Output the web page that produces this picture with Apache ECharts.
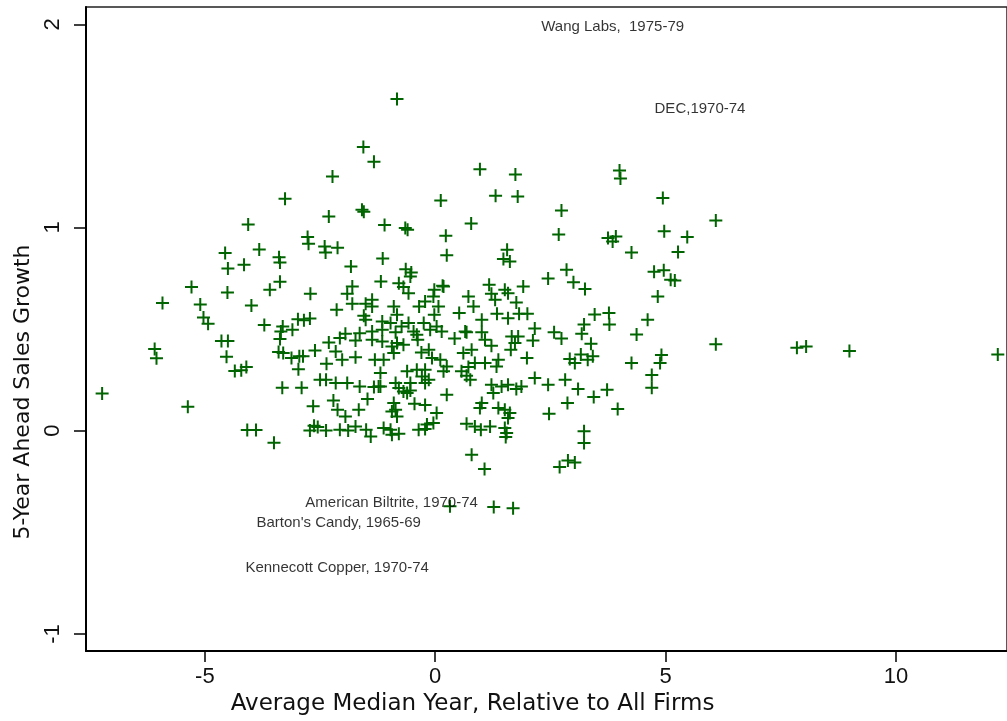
<!DOCTYPE html>
<html>
<head>
<meta charset="utf-8">
<script src="https://cdn.jsdelivr.net/npm/echarts@6/dist/echarts.min.js"></script>
<style>
  html,body{margin:0;padding:0;background:#fff;}
  #main{width:1007px;height:721px;}
</style>
</head>
<body>
<div id="main"></div>
<script>
// ticks
const xTicks = [-5, 0, 5, 10];
const yTicks = [-1, 0, 1, 2];

// [median year relative to all firms, 5-year ahead sales growth]
const firms = [
  [-7.23,0.183],[-6.09,0.402],[-6.05,0.356],[-5.92,0.628],[-5.37,0.118],[-5.29,0.707],[-5.10,0.621],[-5.03,0.557],
  [-4.93,0.526],[-4.56,0.874],[-4.50,0.798],[-4.51,0.680],[-4.64,0.441],[-4.50,0.441],[-4.53,0.364],[-4.35,0.294],
  [-4.21,0.297],[-4.10,0.313],[-4.06,1.015],[-3.82,0.892],[-4.15,0.817],[-3.99,0.616],[-4.08,0.003],[-3.89,0.003],
  [-3.50,-0.059],[-3.71,0.520],[-3.59,0.694],[-3.37,0.733],[-3.39,0.854],[-3.37,0.828],[-3.26,1.141],[-3.35,0.488],
  [-3.31,0.513],[-3.37,0.451],[-3.10,0.497],[-3.40,0.387],[-3.30,0.382],[-3.12,0.358],[-2.95,0.366],[-2.87,0.366],
  [-2.97,0.303],[-3.32,0.211],[-2.90,0.211],[-2.98,0.549],[-2.85,0.543],[-2.72,0.552],[-2.71,0.674],[-2.77,0.953],
  [-2.75,0.920],[-2.61,0.395],[-2.65,0.120],[-2.63,0.025],[-2.72,0.001],[-2.55,0.018],[-2.37,0.001],[-2.50,0.251],
  [-2.37,0.251],[-2.36,0.330],[-2.31,0.434],[-2.16,0.390],[-2.40,0.907],[-2.38,0.877],[-2.12,0.900],[-2.31,1.054],
  [-2.14,0.595],[-2.21,0.149],[-2.12,0.103],[-1.95,0.070],[-2.16,0.235],[-1.91,0.235],[-1.64,0.218],[-2.07,0.005],
  [-1.89,0.001],[-1.73,0.021],[-1.50,0.005],[-1.66,0.103],[-1.47,0.156],[-1.40,-0.028],[-2.02,0.349],[-1.73,0.362],
  [-1.83,0.808],[-1.80,0.710],[-1.91,0.674],[-1.80,0.625],[-1.51,0.625],[-1.37,0.644],[-1.37,0.611],[-1.55,0.566],
  [-1.51,0.546],[-1.59,1.087],[-1.55,1.077],[-1.33,1.323],[-2.23,1.251],[-1.95,0.477],[-1.64,0.480],[-1.37,0.488],
  [-2.07,0.456],[-1.73,0.444],[-1.37,0.448],[-1.31,0.349],[-1.33,0.215],[-0.83,1.632],[-1.56,1.396],
  [0.97,1.287],[1.74,1.261],[4.00,1.280],[4.02,1.241],[0.12,1.133],[1.31,1.156],[1.79,1.152],[2.74,1.084],
  [-1.10,1.012],[-0.65,0.997],[-0.60,0.989],[0.78,1.020],[0.23,0.959],[2.68,0.966],[3.75,0.948],[3.85,0.931],
  [3.92,0.956],[-1.14,0.848],[0.25,0.864],[1.56,0.890],[1.48,0.845],[1.62,0.833],[-0.64,0.795],[-0.52,0.779],
  [-0.54,0.759],[-1.18,0.734],[-0.79,0.726],[-0.69,0.707],[0.16,0.713],[-0.02,0.694],[-0.58,0.677],[1.17,0.718],
  [1.22,0.674],[1.30,0.644],[1.51,0.694],[1.58,0.677],[1.91,0.710],[1.76,0.631],[2.45,0.749],[2.85,0.792],
  [3.00,0.731],[3.25,0.697],[3.46,0.572],[3.77,0.579],[3.78,0.523],[3.23,0.523],[3.18,0.477],[3.38,0.428],
  [3.42,0.366],[2.92,0.353],[3.03,0.333],[3.16,0.375],[3.31,0.349],[2.58,0.485],[2.74,0.454],[2.16,0.503],
  [2.12,0.444],[2.00,0.576],[1.82,0.576],[1.58,0.554],[1.34,0.576],[1.01,0.546],[0.72,0.661],[0.83,0.611],
  [0.52,0.579],[0.18,0.710],[-0.04,0.661],[0.07,0.611],[-0.02,0.571],[-0.22,0.636],[-0.35,0.611],[-0.90,0.611],
  [-0.83,0.571],[-0.97,0.530],[-0.86,0.484],[-0.73,0.513],[-1.15,0.497],[-1.15,0.538],[-0.58,0.530],[-0.47,0.488],
  [-0.40,0.472],[-0.38,0.448],[-0.25,0.530],[-0.11,0.497],[0.03,0.513],[0.14,0.488],[0.42,0.454],[0.65,0.488],
  [0.68,0.484],[1.01,0.484],[1.08,0.448],[1.22,0.418],[1.66,0.464],[1.73,0.431],[1.80,0.464],[1.64,0.398],
  [1.99,0.358],[1.37,0.349],[1.33,0.316],[1.08,0.333],[0.79,0.398],[0.86,0.333],[0.72,0.313],[0.61,0.382],
  [0.57,0.292],[0.68,0.271],[0.76,0.251],[0.25,0.316],[0.18,0.292],[0.11,0.349],[-0.07,0.358],[-0.14,0.398],
  [-0.30,0.385],[-0.22,0.300],[-0.29,0.267],[-0.14,0.251],[-0.22,0.235],[-0.40,0.300],[-0.54,0.235],[-0.61,0.292],
  [-0.69,0.423],[-0.83,0.431],[-0.94,0.415],[-1.15,0.439],[-1.12,0.349],[-0.90,0.382],[-1.19,0.284],[-1.23,0.218],
  [-1.19,0.218],[-0.86,0.235],[-0.79,0.210],[-0.69,0.193],[-0.61,0.185],[-0.54,0.198],[-0.90,0.136],[-0.86,0.103],
  [-0.94,0.095],[-0.83,0.070],[-0.45,0.133],[-0.22,0.126],[0.03,0.087],[-0.04,0.038],[-1.12,0.013],[-0.97,0.005],
  [-0.94,-0.020],[-0.79,-0.015],[-0.36,0.005],[-0.18,0.030],[-0.22,0.008],[0.25,0.177],[0.68,0.034],[1.01,0.136],
  [0.97,0.112],[0.86,0.021],[0.99,0.005],[1.19,0.021],[1.37,0.112],[1.51,0.103],[1.62,0.087],[1.58,0.062],
  [1.51,0.013],[1.55,-0.011],[1.53,-0.031],[1.22,0.226],[1.26,0.185],[1.44,0.218],[1.58,0.226],[1.76,0.205],
  [1.87,0.218],[2.16,0.259],[2.45,0.226],[2.47,0.084],[2.82,0.251],[2.87,0.136],[3.10,0.205],[3.44,0.166],
  [3.73,0.202],[3.96,0.107],[3.23,-0.003],[3.23,-0.061],
  [4.94,1.145],[6.09,1.034],[4.97,0.982],[5.47,0.953],[5.27,0.880],[4.26,0.877],[4.75,0.782],[4.96,0.789],
  [5.11,0.743],[5.20,0.739],[4.83,0.661],[4.61,0.546],[4.37,0.474],[6.09,0.425],[7.85,0.408],[8.05,0.415],
  [8.99,0.392],[12.21,0.375],[4.91,0.372],[4.88,0.333],[4.26,0.333],[4.70,0.274],[4.70,0.211],
  [0.79,-0.118],[1.07,-0.188],[2.70,-0.179],[2.88,-0.146],[3.03,-0.156],[0.32,-0.372],[1.27,-0.375],[1.69,-0.382]
];

// firm labels written into the plot
const noteNames = ['Wang Labs,  1975-79', 'DEC,1970-74', 'American Biltrite, 1970-74', "Barton's Candy, 1965-69", 'Kennecott Copper, 1970-74'];
const noteX = [2.30, 4.76, -2.82, -3.88, -4.12];
const noteY = [1.987, 1.584, -0.354, -0.4525, -0.674];

const green = '#006400';
const plus = 'path://M5.5,0H7.5V5.5H13V7.5H7.5V13H5.5V7.5H0V5.5H5.5Z';
const font = 'Liberation Sans';

const chart = echarts.init(document.getElementById('main'));
chart.setOption({
  animation: false,
  backgroundColor: '#fff',
  grid: {
    left: 86, top: 7, right: -4, bottom: 70,
    show: true, borderColor: '#222', borderWidth: 1.5
  },
  xAxis: {
    type: 'value', min: -7.58, max: 12.41,
    name: 'Average Median Year, Relative to All Firms',
    nameLocation: 'middle', nameGap: 40,
    nameTextStyle: { fontFamily: 'DejaVu Sans', fontSize: 23, color: '#111', padding: [0, 148, 0, 0] },
    axisLine: { onZero: false, lineStyle: { color: '#000', width: 2 } },
    axisTick: { show: true, length: 11, lineStyle: { color: '#000', width: 1.5 }, customValues: xTicks },
    axisLabel: { fontFamily: font, fontSize: 22, color: '#111', margin: 15, customValues: xTicks },
    splitLine: { show: false }
  },
  yAxis: {
    type: 'value', min: -1.084, max: 2.085,
    name: '5-Year Ahead Sales Growth',
    nameLocation: 'middle', nameGap: 50, nameRotate: 90,
    nameTextStyle: { fontFamily: 'DejaVu Sans', fontSize: 22, color: '#111', padding: [0, 126, 0, 0] },
    axisLine: { onZero: false, lineStyle: { color: '#000', width: 2 } },
    axisTick: { show: true, length: 12, lineStyle: { color: '#000', width: 1.5 }, customValues: yTicks },
    axisLabel: { fontFamily: font, fontSize: 22, color: '#111', margin: 22, rotate: 90, customValues: yTicks },
    splitLine: { show: false }
  },
  series: [
    {
      type: 'scatter',
      data: firms,
      symbol: plus,
      symbolSize: 13,
      itemStyle: { color: green, opacity: 1 }
    },
    {
      type: 'scatter',
      data: noteNames.map((n, i) => ({ name: n, value: [noteX[i], noteY[i]] })),
      symbolSize: 0,
      silent: true,
      label: {
        show: true, position: 'right', distance: 0,
        formatter: p => p.name,
        fontFamily: font, fontSize: 15, color: '#000'
      }
    }
  ]
});
</script>
</body>
</html>
